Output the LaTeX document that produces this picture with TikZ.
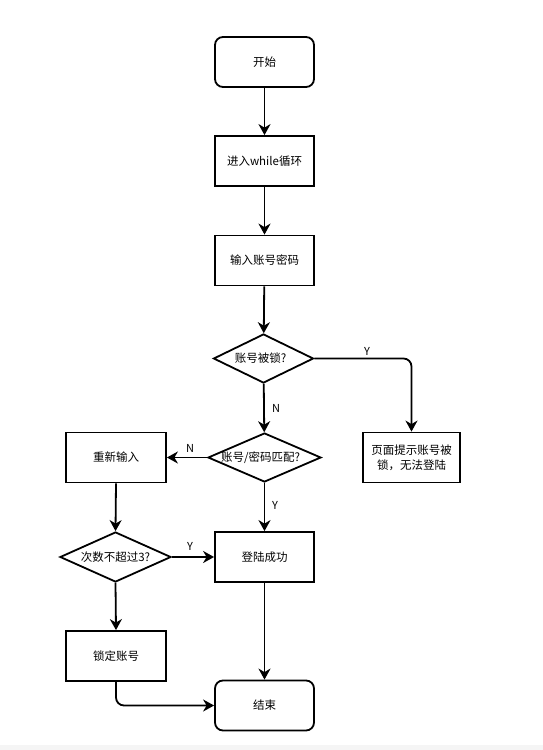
\documentclass[tikz,border=0pt]{standalone}
\usepackage{fontspec}
\setmainfont{Noto Sans CJK SC}
\usetikzlibrary{shapes.geometric,arrows.meta}
\begin{document}
\begin{tikzpicture}[x=1pt,y=-1pt,
  font=\fontsize{11.5}{15}\selectfont,
  every node/.style={inner sep=0pt},
  boxnode/.style={draw,line width=1.8pt,minimum width=99pt,minimum height=50pt,align=center},
  roundbox/.style={boxnode,rounded corners=8pt},
  decision/.style={diamond,draw,line width=1.8pt,inner sep=0pt},
  conn/.style={line width=1.8pt,-{Stealth[length=11pt,width=12pt,inset=3.5pt]}},
  lbl/.style={font=\fontsize{11}{13}\selectfont}]
\useasboundingbox (0,0) rectangle (543,750);
\fill[gray!8] (0,745) rectangle (543,750);

\node[roundbox] (start) at (264.5,62) {开始};
\node[boxnode] (loop) at (264.5,161) {进入while循环};
\node[boxnode] (input) at (264.5,260.5) {输入账号密码};
\node[decision,minimum width=100pt,minimum height=49pt] (locked) at (263.5,358.5) {};
\node at (locked) [xshift=-3pt] {账号被锁?};
\node[boxnode,minimum width=97pt] (tip) at (411.5,457.5) {页面提示账号被\\锁，无法登陆};
\node[decision,minimum width=113pt,minimum height=49pt] (match) at (264.5,457.5) {};
\node at (match) [xshift=-4pt] {账号/密码匹配?};
\node[boxnode,minimum width=100pt] (retry) at (116,457.5) {重新输入};
\node[decision,minimum width=111pt,minimum height=50pt] (count) at (115.5,557) {};
\node at (count) {次数不超过3?};
\node[boxnode] (ok) at (264.5,557) {登陆成功};
\node[boxnode,minimum width=100pt] (lock) at (116,656) {锁定账号};
\node[roundbox] (end) at (264.5,705.5) {结束};

\draw[conn] (start) -- (loop);
\draw[conn] (loop) -- (input);
\draw[conn] (input) -- (locked);
\draw[conn,rounded corners=8pt] (locked.east) -| (tip.north);
\node[lbl] (ly1) at (367,351) {Y};
\draw[conn] (locked) -- (match);
\node[lbl] (ln1) at (276,408) {N};
\draw[conn] (match.west) -- (retry.east);
\node[lbl] (ln2) at (190,448) {N};
\draw[conn] (match.south) -- (ok.north);
\node[lbl] (ly2) at (275,505) {Y};
\draw[conn] (retry.south) -- (count.north);
\draw[conn] (count.east) -- (ok.west);
\node[lbl] (ly3) at (190,546) {Y};
\draw[conn] (count.south) -- (lock.north);
\draw[conn] (ok.south) -- (end.north);
\draw[conn,rounded corners=8pt] (lock.south) |- (end.west);
\end{tikzpicture}
\end{document}
